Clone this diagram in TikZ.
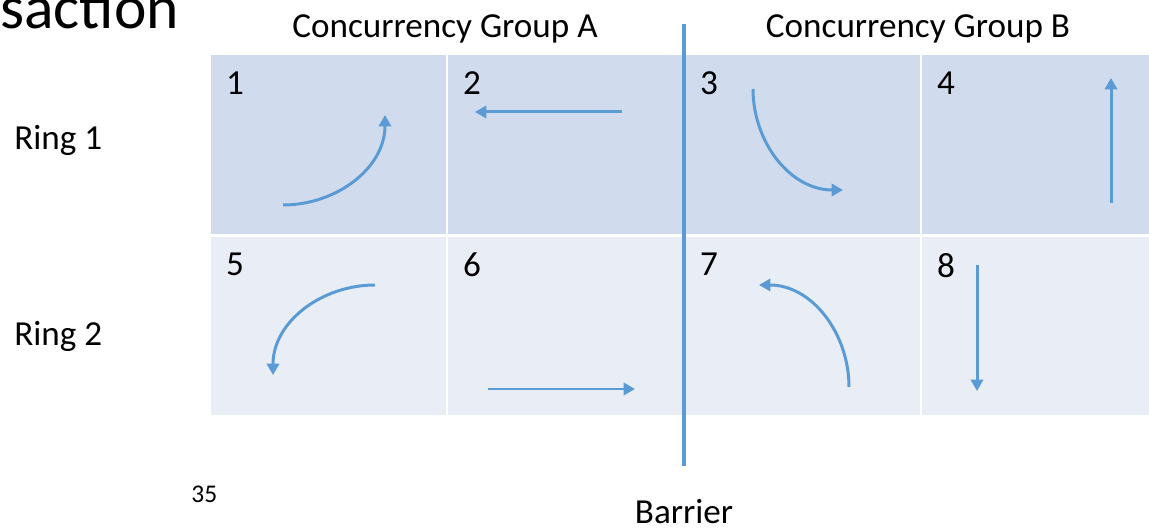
\documentclass[tikz,border=0pt]{standalone}
\usepackage{fontspec}
\setmainfont{Carlito}
\usepackage{tikz}
\usetikzlibrary{arrows.meta,calc,positioning}
\usepackage{xcolor}
\definecolor{RingDark}{HTML}{D0DBED}
\definecolor{RingLight}{HTML}{E9EDF6}
\definecolor{FlowBlue}{HTML}{5B9BD5}
\definecolor{LabelText}{HTML}{000000}

\begin{document}
\begin{tikzpicture}[
  x=0.02cm,y=0.02cm,>=Latex,
  cell/.style={draw=none,minimum width=4.70cm,minimum height=3.58cm,
    inner sep=0pt},
  num/.style={anchor=north west,inner sep=0pt,text=LabelText,
    font=\fontsize{20}{24}\selectfont},
  heading/.style={anchor=base,inner sep=0pt,text=LabelText,
    font=\fontsize{20}{24}\selectfont},
  move/.style={-{Triangle[length=6.5pt,width=7pt]},draw=FlowBlue,
    line width=1.7pt},
  barrier/.style={draw=FlowBlue,line width=2.8pt}
]

\useasboundingbox (0,0) rectangle (1149,530);
\clip (0,0) rectangle (1149,530);

% slide title, cut off at the left edge
\node[anchor=base west,inner sep=0pt,font=\fontsize{35}{40}\selectfont]
  (title) at (0,501) {saction};

% two rings of four cells each
\foreach \n/\cx/\cy/\shade in {1/328.5/385.5/RingDark,2/565.5/385.5/RingDark,
    3/802.5/385.5/RingDark,4/1039.5/385.5/RingDark,
    5/328.5/204/RingLight,6/565.5/204/RingLight,
    7/802.5/204/RingLight,8/1039.5/204/RingLight}{
  \node[cell,fill=\shade] (c\n) at (\cx,\cy) {};
  \node[num,xshift=0.30cm,yshift=-0.33cm] (n\n) at (c\n.north west) {\n};
}

\node[heading] (groupA) at (445,492) {Concurrency Group A};
\node[heading] (groupB) at (918,492) {Concurrency Group B};
\node[heading,anchor=base west] (ring1) at (14,380) {Ring 1};
\node[heading,anchor=base west] (ring2) at (14,184) {Ring 2};
\node[anchor=base west,inner sep=0pt,font=\fontsize{14.5}{17}\selectfont]
  (page) at (191,27) {35};
\node[heading] (barrierlabel) at (684,6) {Barrier};

% the barrier between the two groups
\coordinate (bartop) at (684,506);
\coordinate (barbot) at (684,64);
\draw[barrier] (bartop) -- (barbot);

% movement inside each cell
\draw[move] (283,325) to[out=0,in=-90] (385,415);
\draw[move] (622,418) -- (475,418);
\draw[move] (753,441) to[out=-90,in=180] (843,340);
\draw[move] (1111,327) -- (1111,452);
\draw[move] (375,245) to[out=180,in=90] (273,155);
\draw[move] (488,141) -- (635,141);
\draw[move] (849,143) to[out=90,in=0] (759,245);
\draw[move] (977,265) -- (977,139);

\end{tikzpicture}
\end{document}
